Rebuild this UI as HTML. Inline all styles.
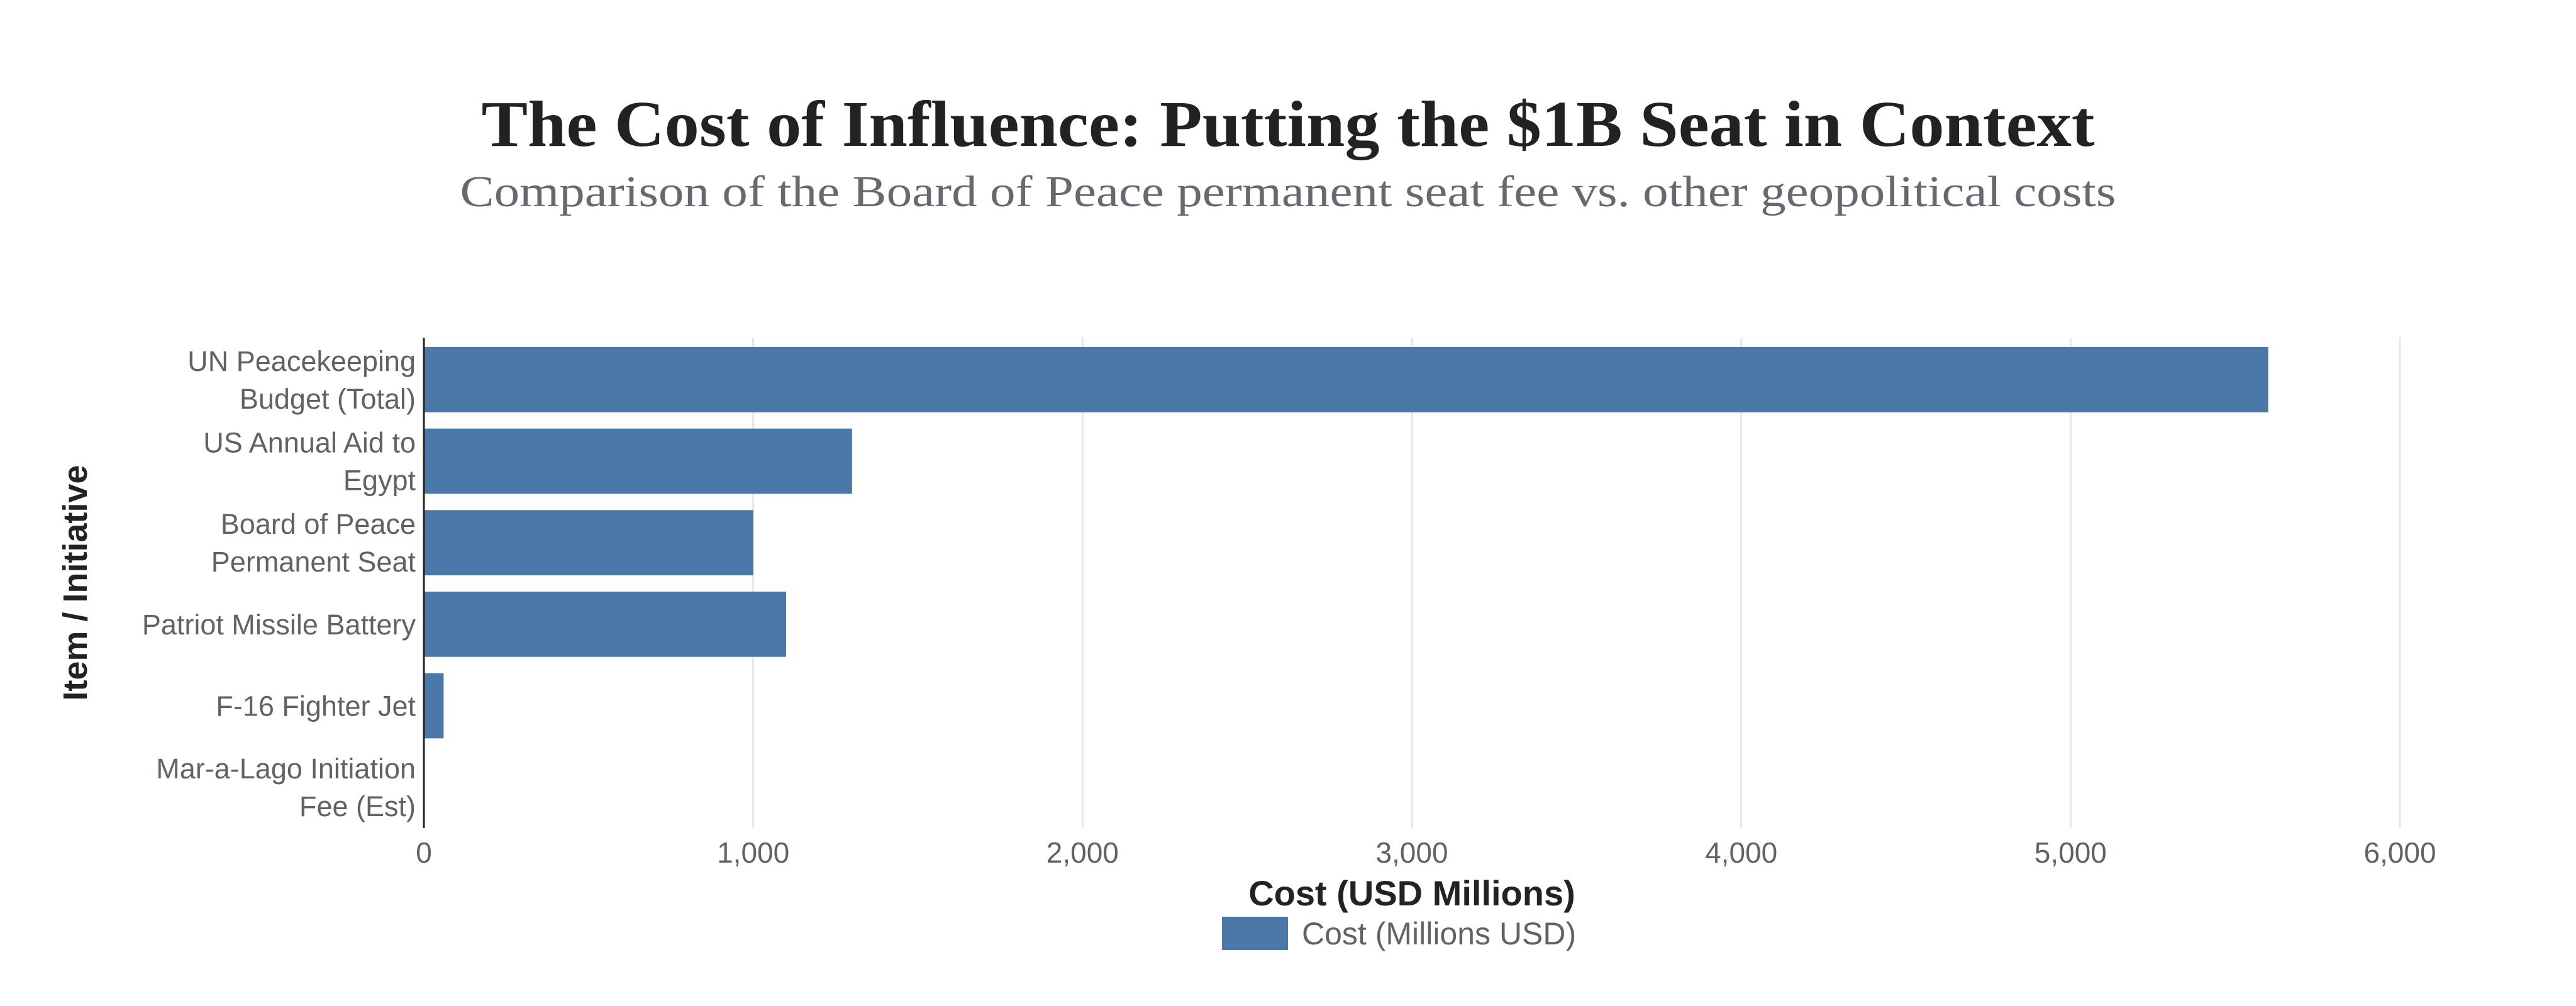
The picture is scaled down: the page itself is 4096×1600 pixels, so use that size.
<!DOCTYPE html>
<html><head><meta charset="utf-8"><style>
html,body{margin:0;padding:0;background:#fff;}
svg{display:block;}
</style></head><body>
<svg id="chart" width="4096" height="1600" xmlns="http://www.w3.org/2000/svg">
<text x="2048" y="232" text-anchor="middle" font-family="Liberation Serif, serif" font-weight="bold" font-size="104" fill="#222" textLength="2565" lengthAdjust="spacingAndGlyphs">The Cost of Influence: Putting the $1B Seat in Context</text>
<text x="2048" y="328" text-anchor="middle" font-family="Liberation Serif, serif" font-size="70" fill="#666a70" textLength="2633" lengthAdjust="spacingAndGlyphs">Comparison of the Board of Peace permanent seat fee vs. other geopolitical costs</text>
<g id="grid"></g>
<g id="bars"></g>
<g id="ylabels"></g>
<g id="xticks"></g>
<line x1="674" y1="537" x2="674" y2="1317" stroke="#222" stroke-width="3"/>
<text x="2245" y="1440" text-anchor="middle" font-family="Liberation Sans, sans-serif" font-weight="bold" font-size="56" fill="#222">Cost (USD Millions)</text>
<text transform="translate(138,927) rotate(-90)" text-anchor="middle" font-family="Liberation Sans, sans-serif" font-weight="bold" font-size="54" fill="#222">Item / Initiative</text>
<rect x="1943" y="1458" width="105" height="53" fill="#4c78a8"/>
<text x="2070" y="1502" font-family="Liberation Sans, sans-serif" font-size="50" fill="#5f6368">Cost (Millions USD)</text>
</svg>
<script>
const categories = [["UN Peacekeeping","Budget (Total)"],["US Annual Aid to","Egypt"],["Board of Peace","Permanent Seat"],["Patriot Missile Battery"],["F-16 Fighter Jet"],["Mar-a-Lago Initiation","Fee (Est)"]];
const values = [5600, 1300, 1000, 1100, 60, 1];
const tickValues = [0, 1000, 2000, 3000, 4000, 5000, 6000];
const tickLabels = ["0","1,000","2,000","3,000","4,000","5,000","6,000"];

const NS = "http://www.w3.org/2000/svg";
const plotX0 = 674, plotX1 = 3816, xMax = 6000, plotTop = 539, plotBottom = 1317;
const band = (plotBottom - plotTop) / categories.length;
function xScale(v){ return plotX0 + (v / xMax) * (plotX1 - plotX0); }
function yBand(i){ return plotTop + i * band; }

const grid = document.getElementById('grid');
const xt = document.getElementById('xticks');
tickValues.forEach((v, i) => {
  const gx = xScale(v);
  if (v > 0) {
    const l = document.createElementNS(NS, 'line');
    l.setAttribute('x1', gx); l.setAttribute('x2', gx);
    l.setAttribute('y1', 537); l.setAttribute('y2', 1317);
    l.setAttribute('stroke', '#e6e6e6'); l.setAttribute('stroke-width', '3');
    
    
    grid.appendChild(l);
  }
  const t = document.createElementNS(NS, 'text');
  t.setAttribute('x', gx); t.setAttribute('y', 1372);
  t.setAttribute('text-anchor', 'middle');
  t.setAttribute('font-family', 'Liberation Sans, sans-serif');
  t.setAttribute('font-size', '46'); t.setAttribute('fill', '#5f6368');
  t.textContent = tickLabels[i];
  
  
  xt.appendChild(t);
});

const bars = document.getElementById('bars');
const yl = document.getElementById('ylabels');
categories.forEach((c, i) => {
  const by = yBand(i);
  const r = document.createElementNS(NS, 'rect');
  r.setAttribute('x', plotX0);
  r.setAttribute('y', by + band * 0.1);
  r.setAttribute('width', Math.max(0, xScale(values[i]) - plotX0));
  r.setAttribute('height', band * 0.8);
  r.setAttribute('fill', '#4c78a8');
  
  
  bars.appendChild(r);
  const cy = by + band / 2;
  const lh = 60;
  c.forEach((line, j) => {
    const t = document.createElementNS(NS, 'text');
    t.setAttribute('x', 661);
    t.setAttribute('y', cy - (c.length - 1) * lh / 2 + j * lh + 16);
    t.setAttribute('text-anchor', 'end');
    t.setAttribute('font-family', 'Liberation Sans, sans-serif');
    t.setAttribute('font-size', '45'); t.setAttribute('fill', '#5f6368');
    t.textContent = line;
    
    
    yl.appendChild(t);
  });
});
</script>
</body></html>
